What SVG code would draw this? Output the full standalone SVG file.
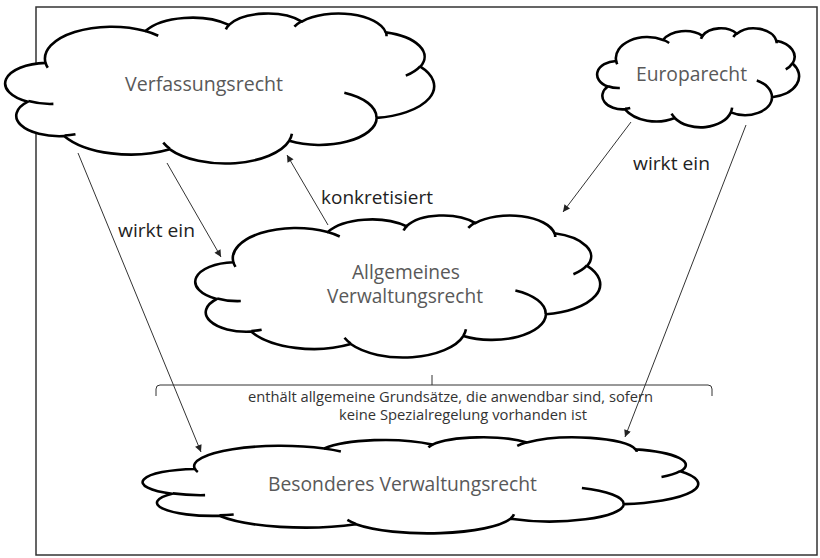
<svg xmlns="http://www.w3.org/2000/svg" xmlns:xlink="http://www.w3.org/1999/xlink" width="820" height="558" viewBox="0 0 820 558">
<style>
.outline{fill:#fff;stroke:#000;stroke-width:2.6;vector-effect:non-scaling-stroke;stroke-linejoin:round}
.inner{fill:none;stroke:#000;stroke-width:2.6;vector-effect:non-scaling-stroke;stroke-linecap:butt}
.lbl{font-family:"Open Sans","Noto Sans","DejaVu Sans",sans-serif;font-size:20px;fill:#595959}
.edge{font-family:"Open Sans","Noto Sans","DejaVu Sans",sans-serif;font-size:19px;fill:#222}
.note{font-family:"Open Sans","Noto Sans","DejaVu Sans",sans-serif;font-size:15px;fill:#333}
.conn{stroke:#333;stroke-width:1;fill:none}
</style>
<defs>
<marker id="ah" viewBox="0 0 10 10" refX="10" refY="5" markerWidth="9" markerHeight="7" markerUnits="userSpaceOnUse" orient="auto"><path d="M0,0 L10,5 L0,10 z" fill="#222"/></marker>
<g id="cloud">
<path class="outline" d="M3900 14370A6753 9190 0 0 1 14005 5202A5333 7267 0 0 1 22456 3432A4365 5945 0 0 1 29833 2481A4857 6595 0 0 1 38318 5576A5333 7273 0 0 1 41819 15460A6775 9220 0 0 1 37403 30200A5785 7867 0 0 1 28554 36810A6752 9215 0 0 1 16480 39264A7720 10543 0 0 1 5804 35470A4360 5918 0 0 1 2112 25549A4345 5945 0 0 1 3900 14370Z"/>
<path class="inner" d="M4693 26177A4345 5945 0 0 1 2160 25380M6928 34899A4360 5918 0 0 1 5820 35281M16478 39090A6752 9215 0 0 1 15809 37347M28827 34751A6752 9215 0 0 1 28560 36660M34129 22954A5785 7867 0 0 1 37381 30090M41798 15354A5333 7273 0 0 1 40349 18031M38324 5426A4857 6595 0 0 1 38400 6690M29078 3952A4857 6595 0 0 1 29820 2340M22141 4720A4365 5945 0 0 1 22500 3330M14000 5192A6753 9190 0 0 1 15301 6542M4127 15789A6753 9190 0 0 1 3900 14371"/>
</g>
</defs>
<rect x="36" y="7" width="781" height="548" fill="#fff" stroke="#333" stroke-width="1.5"/>
<g id="verfassungsrecht">
<use href="#cloud" transform="translate(7,13) scale(0.009884,0.003472)"/>
<text class="lbl" x="125" y="91" textLength="158" lengthAdjust="spacingAndGlyphs">Verfassungsrecht</text>
</g>
<g id="europarecht">
<use href="#cloud" transform="translate(598,28) scale(0.004653,0.002292)"/>
<text class="lbl" x="636" y="81" textLength="111" lengthAdjust="spacingAndGlyphs">Europarecht</text>
</g>
<g id="allgemeines">
<use href="#cloud" transform="translate(197,215) scale(0.009329,0.003287)"/>
<text class="lbl" x="352" y="279" textLength="108" lengthAdjust="spacingAndGlyphs">Allgemeines</text>
<text class="lbl" x="327" y="303" textLength="156" lengthAdjust="spacingAndGlyphs">Verwaltungsrecht</text>
</g>
<g id="besonderes">
<use href="#cloud" transform="translate(145,437) scale(0.012801,0.002222)"/>
<text class="lbl" x="268" y="491" textLength="269" lengthAdjust="spacingAndGlyphs">Besonderes Verwaltungsrecht</text>
</g>
<g id="connectors">
<line class="conn" x1="78" y1="153" x2="201" y2="452" marker-end="url(#ah)"/>
<line class="conn" x1="167" y1="163" x2="221" y2="257" marker-end="url(#ah)"/>
<line class="conn" x1="328" y1="225" x2="287" y2="155" marker-end="url(#ah)"/>
<line class="conn" x1="631" y1="122" x2="563" y2="212" marker-end="url(#ah)"/>
<line class="conn" x1="746" y1="125" x2="625" y2="437" marker-end="url(#ah)"/>
<text class="edge" x="118" y="237" textLength="77" lengthAdjust="spacingAndGlyphs">wirkt ein</text>
<text class="edge" x="321" y="204" textLength="112" lengthAdjust="spacingAndGlyphs">konkretisiert</text>
<text class="edge" x="633" y="170" textLength="77" lengthAdjust="spacingAndGlyphs">wirkt ein</text>
</g>
<g id="bracket">
<path class="conn" d="M156,396 V389 Q156,385 160,385 H708 Q712,385 712,389 V396 M432,385 V375" stroke="#444"/>
<text class="note" x="248" y="402" textLength="405" lengthAdjust="spacingAndGlyphs">enthält allgemeine Grundsätze, die anwendbar sind, sofern</text>
<text class="note" x="339" y="420" textLength="248" lengthAdjust="spacingAndGlyphs">keine Spezialregelung vorhanden ist</text>
</g>
</svg>
